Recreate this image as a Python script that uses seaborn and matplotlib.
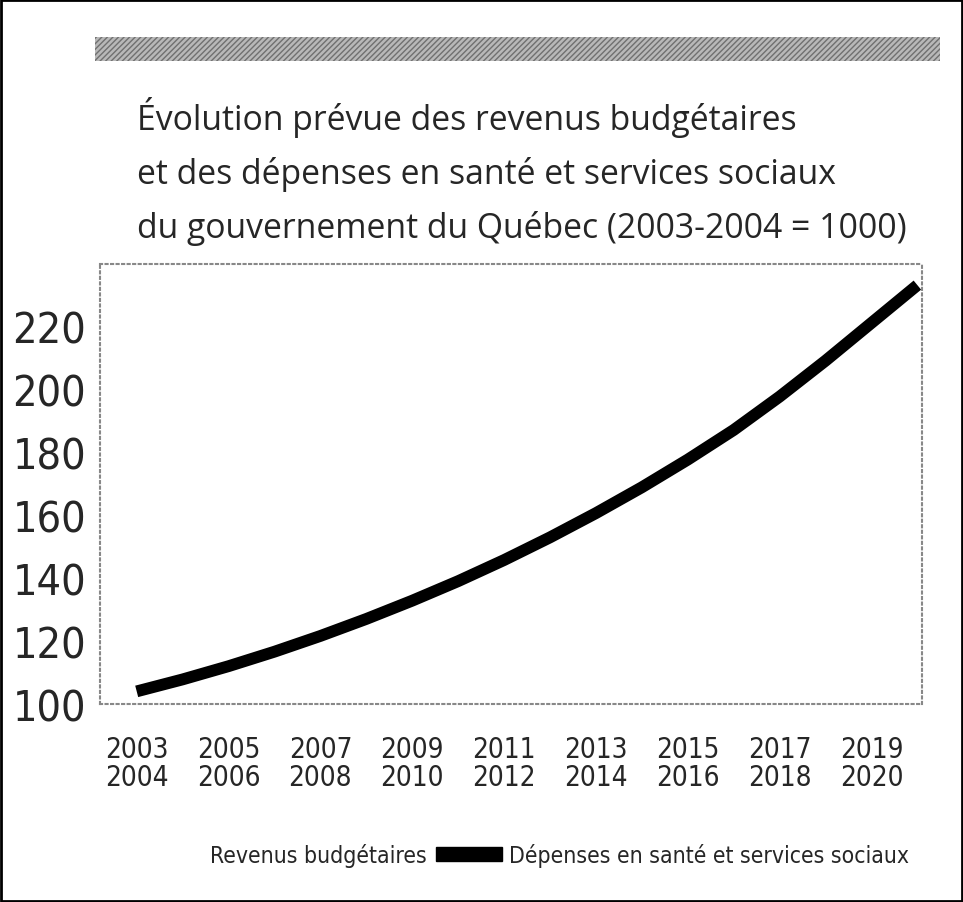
import matplotlib
matplotlib.use('Agg')
import matplotlib.pyplot as plt
import matplotlib.patches as mpatches
import seaborn as sns

# Values (index, 2003-2004 = 100)
years = [2003, 2004, 2005, 2006, 2007, 2008, 2009, 2010, 2011,
         2012, 2013, 2014, 2015, 2016, 2017, 2018, 2019, 2020]
depenses = [104, 107.8, 112, 116.6, 121.6, 127, 132.8, 139, 145.7,
            152.9, 160.6, 168.8, 177.6, 187, 197.6, 209, 221, 233]
tick_years = [2003, 2005, 2007, 2009, 2011, 2013, 2015, 2017, 2019]
tick_labels = [f"{y}\n{y + 1}" for y in tick_years]
y_ticks = [100, 120, 140, 160, 180, 200, 220]

title_lines = ["Évolution prévue des revenus budgétaires",
               "et des dépenses en santé et services sociaux",
               "du gouvernement du Québec (2003-2004 = 1000)"]
legend_labels = ["Revenus budgétaires", "Dépenses en santé et services sociaux"]

sns.set_style('white')
plt.rcParams['font.family'] = ['Open Sans', 'DejaVu Sans']

fig = plt.figure(figsize=(9.63, 9.03), dpi=100)
ax = fig.add_axes([0.1038, 0.2193, 0.8536, 0.4872])

sns.lineplot(x=years, y=depenses, color='black', linewidth=8.5,
             solid_capstyle='butt', solid_joinstyle='round', ax=ax)

ax.set_xlim(2002.2, 2020.1)
ax.set_ylim(100, 239.7)
ax.set_xticks(tick_years)
ax.set_xticklabels(tick_labels, family='DejaVu Sans', stretch='condensed',
                   fontsize=20, linespacing=1.0)
ax.set_yticks(y_ticks)
ax.set_yticklabels([str(v) for v in y_ticks], family='DejaVu Sans',
                   stretch='condensed', fontsize=31)
ax.tick_params(axis='x', length=0, pad=22)
ax.tick_params(axis='y', length=0, pad=10)
for s in ax.spines.values():
    s.set_color('#888888')
    s.set_linestyle(':')
    s.set_linewidth(1.5)

# title lines
for i, line in enumerate(title_lines):
    fig.text(0.142, 1 - (130 + 54 * i) / 903, line, fontsize=24.3,
             va='baseline', ha='left')

# grey printed band above the title
band = mpatches.Rectangle((0.0987, 0.9313), 0.877, 0.0266, transform=fig.transFigure,
                          facecolor='#b8b8b8', edgecolor='#707070', hatch='//////',
                          linewidth=0)
fig.patches.append(band)

# outer frame
frame = mpatches.Rectangle((0.001, 0.001), 0.998, 0.998, transform=fig.transFigure,
                           fill=False, edgecolor='black', linewidth=2)
fig.patches.append(frame)

handles = [mpatches.Patch(facecolor='white', edgecolor='white'),
           mpatches.Patch(facecolor='black', edgecolor='black')]
fig.legend(handles, legend_labels, loc='center', bbox_to_anchor=(0.543, 0.052),
           ncol=2, frameon=False,
           prop={'family': 'DejaVu Sans', 'stretch': 'condensed', 'size': 16.5},
           handlelength=2.9, handleheight=0.6, handletextpad=0.3, columnspacing=0.4)

fig.savefig('out.png', dpi=100)
